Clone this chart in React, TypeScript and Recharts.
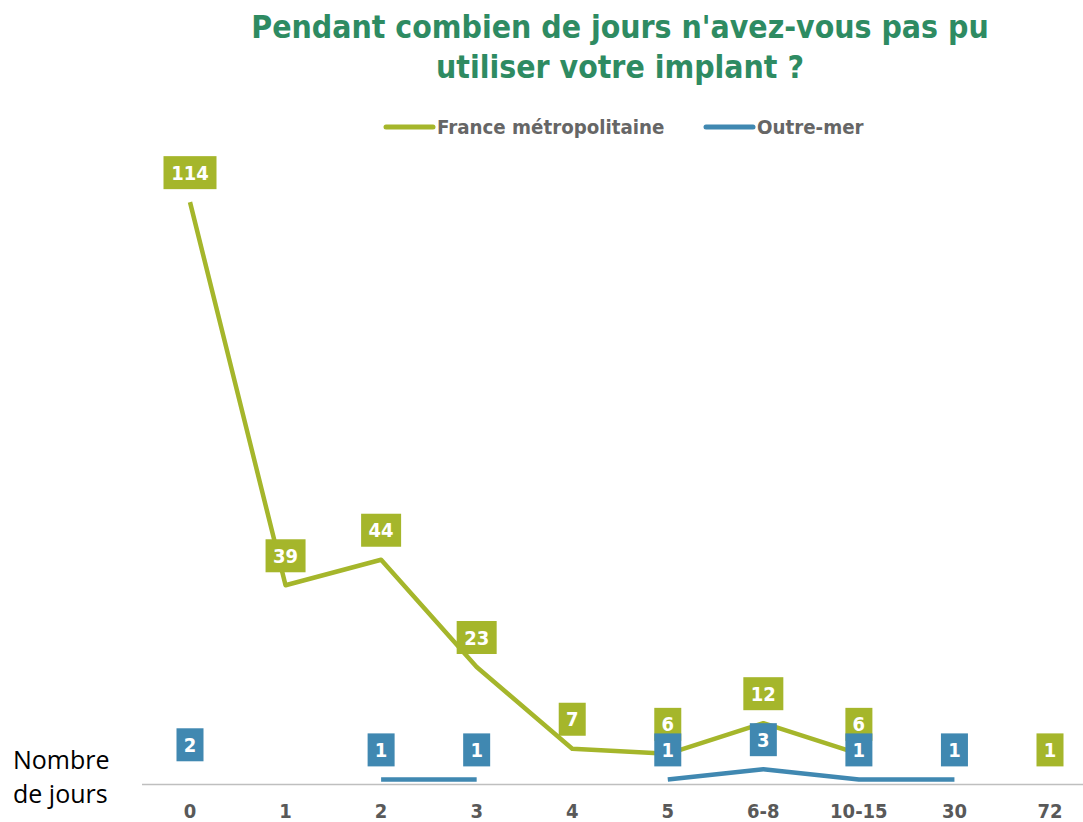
import React from 'react';
import { LineChart, Line, XAxis, YAxis, LabelList } from 'recharts';

const categories = ['0', '1', '2', '3', '4', '5', '6-8', '10-15', '30', '72'];
const franceValues: (number | null)[] = [114, 39, 44, 23, 7, 6, 12, 6, null, 1];
const outreMerValues: (number | null)[] = [2, null, 1, 1, null, 1, 3, 1, 1, null];

const data = categories.map((c, i) => ({ cat: c, france: franceValues[i], outre: outreMerValues[i] }));

const GREEN = '#A5B62B';
const BLUE = '#4088B1';
const TITLE_GREEN = '#2E8B62';
const FONT = "'DejaVu Sans Condensed', 'DejaVu Sans', sans-serif";

const makeLabel = (fill: string) => (props: any) => {
  const { x, y, value } = props;
  if (value === null || value === undefined) return null;
  const s = String(value);
  const w = 14 + 13 * s.length;
  const h = 33;
  const bottom = y - 13;
  return (
    <g>
      <rect x={x - w / 2} y={bottom - h} width={w} height={h} fill={fill} />
      <text
        x={x}
        y={bottom - h / 2 + 7}
        textAnchor="middle"
        fill="#ffffff"
        fontFamily={FONT}
        fontStretch="condensed"
        fontWeight="bold"
        fontSize={20}
      >
        {s}
      </text>
    </g>
  );
};

const Tick = (props: any) => {
  const { x, y, payload } = props;
  return (
    <text
      x={x}
      y={y + 33.5}
      textAnchor="middle"
      fill="#595959"
      fontFamily={FONT}
      fontStretch="condensed"
      fontWeight="bold"
      fontSize={20}
    >
      {payload.value}
    </text>
  );
};

export default function App() {
  return (
    <div style={{ position: 'fixed', left: 0, top: 0, width: 1083, height: 822, overflow: 'hidden', background: '#fff' }}>
      <LineChart width={1110} height={822} data={data} margin={{ top: 171.5, right: 12, bottom: 0, left: 142 }}>
        <XAxis
          dataKey="cat"
          height={37.5}
          tickLine={false}
          tickSize={0}
          tickMargin={0}
          interval={0}
          padding={{ left: 48, right: 48 }}
          axisLine={{ stroke: '#BFBFBF', strokeWidth: 1.5 }}
          tick={<Tick />}
        />
        <YAxis hide domain={[0, 120]} />
        <Line
          dataKey="france"
          stroke={GREEN}
          strokeWidth={4.5}
          strokeLinecap="butt"
          strokeLinejoin="round"
          dot={false}
          activeDot={false}
          isAnimationActive={false}
          connectNulls={false}
        >
          <LabelList dataKey="france" content={makeLabel(GREEN)} />
        </Line>
        <Line
          dataKey="outre"
          stroke={BLUE}
          strokeWidth={4.5}
          strokeLinecap="butt"
          strokeLinejoin="round"
          dot={false}
          activeDot={false}
          isAnimationActive={false}
          connectNulls={false}
        >
          <LabelList dataKey="outre" content={makeLabel(BLUE)} />
        </Line>
      </LineChart>
      <svg width={1083} height={822} style={{ position: 'absolute', left: 0, top: 0, pointerEvents: 'none' }}>
        <text x={620} y={38} textAnchor="middle" fill={TITLE_GREEN} fontFamily={FONT} fontStretch="condensed" fontWeight="bold" fontSize={31.7}>
          Pendant combien de jours n'avez-vous pas pu
        </text>
        <text x={620} y={78} textAnchor="middle" fill={TITLE_GREEN} fontFamily={FONT} fontStretch="condensed" fontWeight="bold" fontSize={31.7}>
          utiliser votre implant ?
        </text>
        <line x1={386} y1={127} x2={433} y2={127} stroke={GREEN} strokeWidth={5} strokeLinecap="round" />
        <text x={437} y={134} fill="#666666" fontFamily={FONT} fontStretch="condensed" fontWeight="bold" fontSize={20.3}>
          France métropolitaine
        </text>
        <line x1={706} y1={127} x2={753} y2={127} stroke={BLUE} strokeWidth={5} strokeLinecap="round" />
        <text x={757} y={134} fill="#666666" fontFamily={FONT} fontStretch="condensed" fontWeight="bold" fontSize={20.3}>
          Outre-mer
        </text>
        <text x={13} y={769} fill="#000000" fontFamily="'Open Sans', sans-serif" fontSize={25}>
          Nombre
        </text>
        <text x={13} y={803} fill="#000000" fontFamily="'Open Sans', sans-serif" fontSize={25}>
          de jours
        </text>
      </svg>
    </div>
  );
}
